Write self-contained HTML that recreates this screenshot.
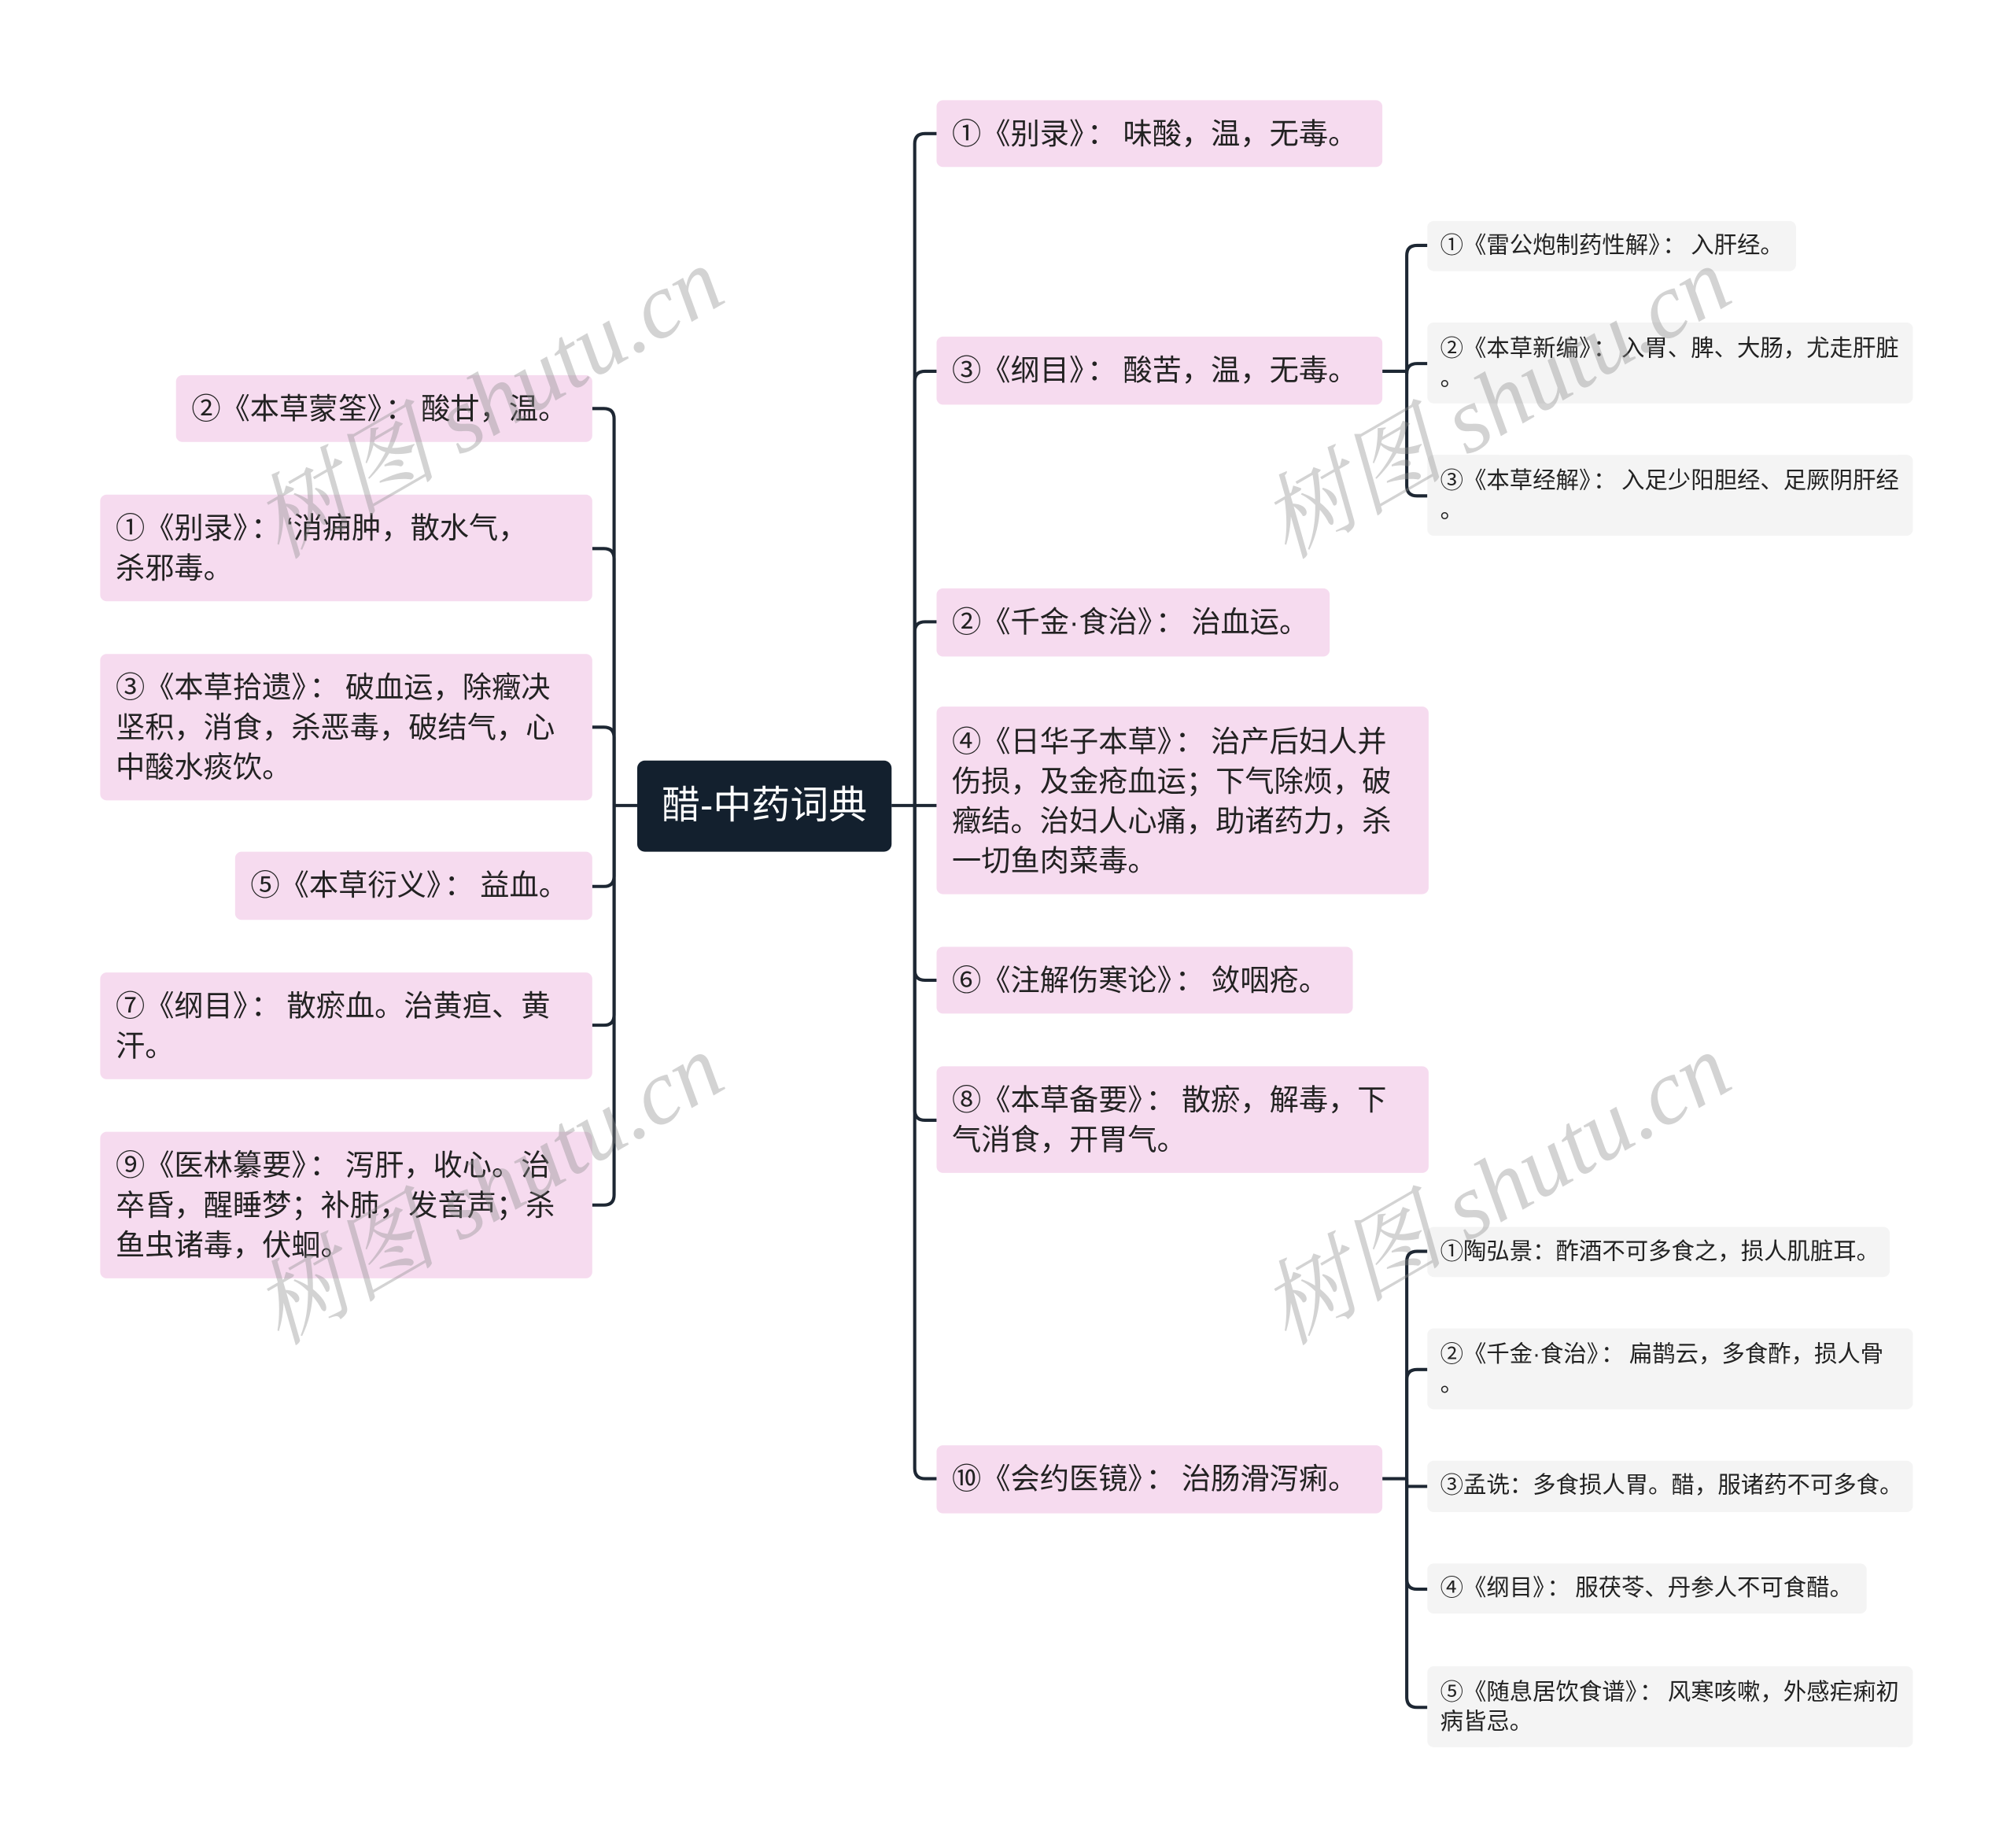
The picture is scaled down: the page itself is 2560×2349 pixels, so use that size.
<!DOCTYPE html>
<html><head><meta charset="utf-8"><style>
html,body{margin:0;padding:0;background:#fff;width:2560px;height:2349px;overflow:hidden}
#c{position:absolute;left:0;top:0;width:1568px;height:1438px;transform:scale(1.633);transform-origin:0 0;font-family:"Liberation Sans","Noto Sans CJK SC",sans-serif;color:#222}
.n{position:absolute;background:#f6dbef;border-radius:5px;box-sizing:border-box;padding:0 12px;font-size:22.8px;line-height:31px;white-space:nowrap}
.s{position:absolute;background:#f4f4f4;border-radius:5px;box-sizing:border-box;padding:0 10px;font-size:18px;line-height:23px;white-space:nowrap}
.k{margin:0 .22em 0 .12em}
.w{position:absolute;font-size:72px;color:rgba(140,140,140,.38);transform:rotate(-30deg);transform-origin:0 100%;white-space:nowrap;font-family:"Liberation Serif","Noto Serif CJK SC",serif;font-style:italic}
</style></head><body><div id="c">
<svg width="1568" height="1438" style="position:absolute;left:0;top:0" fill="none" stroke="#1d2733" stroke-width="2.5">
<path d="M694,627H712"/>
<path d="M712,627V112Q712,104 720,104H729"/>
<path d="M712,627V297Q712,289 720,289H729"/>
<path d="M712,627V492Q712,484 720,484H729"/>
<path d="M712,627H729"/>
<path d="M712,627V755Q712,763 720,763H729"/>
<path d="M712,627V864Q712,872 720,872H729"/>
<path d="M712,627V1143Q712,1151 720,1151H729"/>
<path d="M496,627H478"/>
<path d="M478,627V326Q478,318 470,318H461"/>
<path d="M478,627V435Q478,427 470,427H461"/>
<path d="M478,627V574Q478,566 470,566H461"/>
<path d="M478,627V682Q478,690 470,690H461"/>
<path d="M478,627V790Q478,798 470,798H461"/>
<path d="M478,627V930Q478,938 470,938H461"/>
<path d="M1076,289H1095"/>
<path d="M1095,289V199Q1095,191 1103,191H1111"/>
<path d="M1095,289V291Q1095,283 1103,283H1111"/>
<path d="M1095,289V378Q1095,386 1103,386H1111"/>
<path d="M1076,1151H1095"/>
<path d="M1095,1151V982Q1095,974 1103,974H1111"/>
<path d="M1095,1151V1074Q1095,1066 1103,1066H1111"/>
<path d="M1095,1151V1157H1111"/>
<path d="M1095,1151V1229Q1095,1237 1103,1237H1111"/>
<path d="M1095,1151V1321Q1095,1329 1103,1329H1111"/>
</svg>
<div style="position:absolute;left:496px;top:592px;width:198px;height:71px;background:#13202e;border-radius:6px;color:#fff;font-size:30px;line-height:71px;text-align:center">醋-中药词典</div>

<div class="n" style="left:729px;top:78px;width:347px;height:52px;padding-top:11px">①《别录》<span class="k">：</span>味酸，温，无毒。</div>
<div class="n" style="left:729px;top:262px;width:347px;height:53px;padding-top:11px">③《纲目》<span class="k">：</span>酸苦，温，无毒。</div>
<div class="n" style="left:729px;top:458px;width:306px;height:53px;padding-top:11px">②《千金·食治》<span class="k">：</span>治血运。</div>
<div class="n" style="left:729px;top:550px;width:383px;height:146px;padding-top:12px">④《日华子本草》<span class="k">：</span>治产后妇人并<br>伤损，及金疮血运；下气除烦，破<br>癥结。治妇人心痛，助诸药力，杀<br>一切鱼肉菜毒。</div>
<div class="n" style="left:729px;top:737px;width:324px;height:52px;padding-top:11px">⑥《注解伤寒论》<span class="k">：</span>敛咽疮。</div>
<div class="n" style="left:729px;top:830px;width:383px;height:83px;padding-top:11px">⑧《本草备要》<span class="k">：</span>散瘀，解毒，下<br>气消食，开胃气。</div>
<div class="n" style="left:729px;top:1125px;width:347px;height:53px;padding-top:11px">⑩《会约医镜》<span class="k">：</span>治肠滑泻痢。</div>

<div class="n" style="left:137px;top:292px;width:324px;height:52px;padding-top:11px">②《本草蒙筌》<span class="k">：</span>酸甘，温。</div>
<div class="n" style="left:78px;top:385px;width:383px;height:83px;padding-top:11px">①《别录》<span class="k">：</span>‘消痈肿，散水气，<br>杀邪毒。</div>
<div class="n" style="left:78px;top:509px;width:383px;height:114px;padding-top:11px">③《本草拾遗》<span class="k">：</span>破血运，除癥决<br>坚积，消食，杀恶毒，破结气，心<br>中酸水痰饮。</div>
<div class="n" style="left:183px;top:663px;width:278px;height:53px;padding-top:11px">⑤《本草衍义》<span class="k">：</span>益血。</div>
<div class="n" style="left:78px;top:757px;width:383px;height:83px;padding-top:11px">⑦《纲目》<span class="k">：</span>散瘀血。治黄疸、黄<br>汗。</div>
<div class="n" style="left:78px;top:881px;width:383px;height:114px;padding-top:11px">⑨《医林纂要》<span class="k">：</span>泻肝，收心。治<br>卒昏，醒睡梦；补肺，发音声；杀<br>鱼虫诸毒，伏蛔。</div>

<div class="s" style="left:1111px;top:172px;width:287px;height:39px;padding-top:8px">①《雷公炮制药性解》<span class="k">：</span>入肝经。</div>
<div class="s" style="left:1111px;top:251px;width:378px;height:63px;padding-top:9px">②《本草新编》<span class="k">：</span>入胃、脾、大肠，尤走肝脏<br>。</div>
<div class="s" style="left:1111px;top:354px;width:378px;height:63px;padding-top:9px">③《本草经解》<span class="k">：</span>入足少阳胆经、足厥阴肝经<br>。</div>
<div class="s" style="left:1111px;top:955px;width:360px;height:39px;padding-top:8px">①陶弘景：酢酒不可多食之，损人肌脏耳。</div>
<div class="s" style="left:1111px;top:1034px;width:378px;height:63px;padding-top:9px">②《千金·食治》<span class="k">：</span>扁鹊云，多食酢，损人骨<br>。</div>
<div class="s" style="left:1111px;top:1137px;width:378px;height:40px;padding-top:8px">③孟诜：多食损人胃。醋，服诸药不可多食。</div>
<div class="s" style="left:1111px;top:1217px;width:342px;height:39px;padding-top:8px">④《纲目》<span class="k">：</span>服茯苓、丹参人不可食醋。</div>
<div class="s" style="left:1111px;top:1297px;width:378px;height:63px;padding-top:9px">⑤《随息居饮食谱》<span class="k">：</span>风寒咳嗽，外感疟痢初<br>病皆忌。</div>

<div class="w" style="left:228px;top:350px">树图 shutu.cn</div>
<div class="w" style="left:1012px;top:350px">树图 shutu.cn</div>
<div class="w" style="left:228px;top:962px">树图 shutu.cn</div>
<div class="w" style="left:1012px;top:962px">树图 shutu.cn</div>
</div></body></html>
